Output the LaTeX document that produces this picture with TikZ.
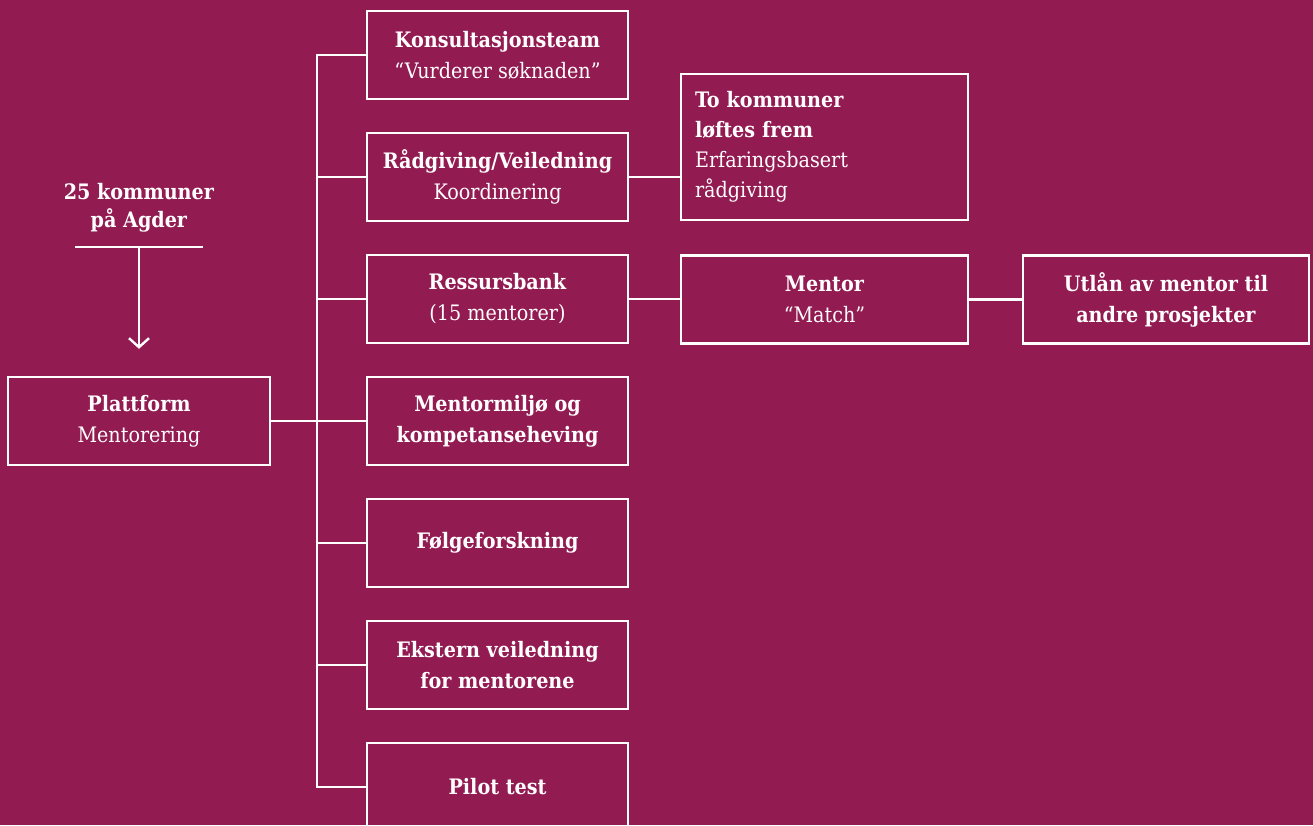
\documentclass[tikz,border=0pt]{standalone}
\usepackage{fontspec}
\setmainfont{DejaVu Serif Condensed}
\usetikzlibrary{arrows.meta}
\definecolor{plomme}{RGB}{146,27,82}
\tikzset{
  boks/.style={draw=white, line width=2.4pt, minimum width=261pt, minimum height=88pt,
    inner sep=0pt, align=center, text=white, font=\fontsize{21.3}{31}\selectfont},
  ledd/.style={draw=white, line width=2.4pt},
  tekst/.style={text=white, align=center, font=\fontsize{21.3}{28}\selectfont}
}
\begin{document}
\begin{tikzpicture}[x=1pt, y=-1pt]
            \fill[plomme] (0,0) rectangle (1313,825);
            \useasboundingbox (0,0) rectangle (1313,825);
            \node[tekst] (kommuner) at (139,208) {\textbf{25 kommuner}\\\textbf{på Agder}};
            \coordinate (barL) at (75,247);
            \coordinate (barR) at (203,247);
            \node[boks, minimum width=262pt] (plattform) at (139,421) {\textbf{Plattform}\\Mentorering};
            \node[boks] (konsult) at (497.5,55) {\textbf{Konsultasjonsteam}\\“Vurderer søknaden”};
            \node[boks] (raad) at (497.5,177) {\textbf{Rådgiving/Veiledning}\\Koordinering};
            \node[boks] (ressurs) at (497.5,299) {\textbf{Ressursbank}\\(15 mentorer)};
            \node[boks] (miljo) at (497.5,421) {\textbf{Mentormiljø og}\\\textbf{kompetanseheving}};
            \node[boks] (folge) at (497.5,543) {\textbf{Følgeforskning}};
            \node[boks] (ekstern) at (497.5,665) {\textbf{Ekstern veiledning}\\\textbf{for mentorene}};
            \node[boks] (pilot) at (497.5,787) {\textbf{Pilot test}};
            \node[boks, minimum width=287pt, minimum height=146pt, align=left, text width=259pt, font=\fontsize{21.3}{30}\selectfont] (tokom) at (824.5,147) {\textbf{To kommuner}\\\textbf{løftes frem}\\Erfaringsbasert\\rådgiving};
            \node[boks, minimum width=287pt] (mentor) at (824.5,299.5) {\textbf{Mentor}\\“Match”};
            \node[boks, minimum width=286pt] (utlaan) at (1166,299.5) {\textbf{Utlån av mentor til}\\\textbf{andre prosjekter}};
            \coordinate (stamme) at (317,0);
            \draw[ledd] (barL) -- (barR);
            \draw[ledd, -{Straight Barb[length=9pt, width=20pt]}] (plattform.north |- barL) -- ([yshift=27pt]plattform.north);
            \draw[ledd, line cap=rect] (konsult.west -| stamme) -- (pilot.west -| stamme);
            \draw[ledd] (plattform.east) -- (plattform.east -| stamme);
            \foreach \boksnavn in {konsult, raad, ressurs, miljo, folge, ekstern, pilot}
                \draw[ledd] (\boksnavn.west -| stamme) -- (\boksnavn.west);
            \draw[ledd] (raad.east) -- (raad.east -| tokom.west);
            \draw[ledd] (ressurs.east) -- (ressurs.east -| mentor.west);
            \draw[ledd] (mentor.east) -- (utlaan.west);
        \end{tikzpicture}
\end{document}
